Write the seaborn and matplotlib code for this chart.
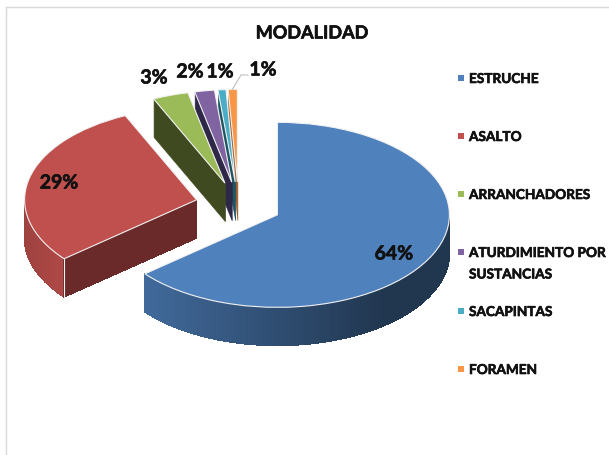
import numpy as np
import seaborn as sns
import matplotlib
matplotlib.use("Agg")
import matplotlib.pyplot as plt
import matplotlib.patheffects as pe
from matplotlib.collections import PolyCollection
from matplotlib.colors import to_rgb
from matplotlib.lines import Line2D
from matplotlib.patches import Rectangle

categories = ["ESTRUCHE", "ASALTO", "ARRANCHADORES",
              "ATURDIMIENTO POR\nSUSTANCIAS", "SACAPINTAS", "FORAMEN"]
values = [64.0, 29.2, 3.35, 1.85, 0.75, 0.85]
colors = ["#4f81bd", "#c0504d", "#9bbb59", "#8064a2", "#4bacc6", "#f79646"]
cut_colors = ["#26405f", "#6a2a29", "#3f4a20", "#2f2748", "#1f5563", "#a06030"]

W, H = 609, 455
sns.set_theme(style="white")
plt.rcParams["font.family"] = ["Lato", "DejaVu Sans"]

fig = plt.figure(figsize=(W / 100, H / 100), dpi=100, facecolor="white")
ax = fig.add_axes([0, 0, 1, 1])

# pie centre in pixels and elliptical radii
CX, CY, RX, RY, DEPTH = 238.5, 205.0, 172.0, 92.5, 38.0

wedges, _ = ax.pie(values, colors=sns.color_palette(colors), startangle=90,
                   counterclock=False, explode=[0.25] * len(values),
                   wedgeprops=dict(edgecolor="#f2f2f2", linewidth=0.8))
ax.set_aspect("auto")
ax.set_xlim(-CX / RX, (W - CX) / RX)
ax.set_ylim(-(H - CY) / RY, CY / RY)
ax.axis("off")

d = DEPTH / RY


def blue_shade(x):
    """Rim sheen on the big slice: bright at the left, dark toward the right."""
    t = np.clip((x + 0.55) / 1.4, 0, 1)
    return tuple(np.array(to_rgb(colors[0])) * (0.82 * (1 - t) + 0.42 * t))


for i in range(len(wedges) - 1, -1, -1):
    w = wedges[i]
    z = 10 + (len(wedges) - i) * 3
    w.set_zorder(z + 1)
    cx, cy = w.center
    t1, t2 = w.theta1, w.theta2
    polys, cols = [], []
    # outer rim, only the part that faces the viewer (lower half of the ellipse)
    lo, hi = max(t1, -180), min(t2, 0)
    if hi > lo:
        th = np.radians(np.linspace(lo, hi, 160))
        xs, ys = cx + np.cos(th), cy + np.sin(th)
        for k in range(len(th) - 1):
            polys.append([(xs[k], ys[k]), (xs[k + 1], ys[k + 1]),
                          (xs[k + 1], ys[k + 1] - d), (xs[k], ys[k] - d)])
            if i == 0:
                cols.append(blue_shade(xs[k]))
            else:
                cols.append(tuple(np.array(to_rgb(colors[i]))
                                  * (0.82 + 0.10 * np.clip((xs[k] - cx + 1) / 0.25, 0, 1))))
        # plain rim underneath keeps the lower outline smooth
        outline = [(x, y - d) for x, y in zip(xs, ys)] + [(x, y) for x, y in zip(xs[::-1], ys[::-1])]
        ax.add_collection(PolyCollection([outline], facecolors=[cols[len(cols) // 2]],
                                         edgecolors="none", zorder=z - 1))
    # the cut face that looks toward the viewer, at the slice's clockwise start
    a = np.radians(t2)
    ex, ey = cx + np.cos(a), cy + np.sin(a)
    if i > 0:
        polys.append([(cx, cy), (ex, ey), (ex, ey - d), (cx, cy - d)])
        cols.append(to_rgb(cut_colors[i]))
    ax.add_collection(PolyCollection(polys, facecolors=cols, edgecolors=cols,
                                     linewidths=0.5, antialiaseds=False, zorder=z))
    if i == 1:
        # pale seam at the front corner of the red slice
        ax.add_line(Line2D([ex, ex], [ey, ey - d], color="#f2f2f2", lw=0.8, zorder=z + 2))


def fx(px):
    return px / W


def fy(py):
    return 1 - py / H


def bold(size):
    return dict(fontsize=size, fontweight="bold", color="#111111",
                path_effects=[pe.withStroke(linewidth=0.45, foreground="#111111")])


# frame lines at the top and left of the chart
fig.add_artist(Line2D([fx(5.5), 1], [fy(6.5), fy(6.5)], color="#d9d9d9", lw=1))
fig.add_artist(Line2D([fx(5.5), fx(5.5)], [fy(454), fy(6.5)], color="#d9d9d9", lw=1))

fig.text(fx(312), fy(33), "MODALIDAD", ha="center", va="center", **bold(13))

# data labels, rounded from the values
label_pos = [(394, 254), (59, 183), (154, 78), (190, 72), (220, 72), (263, 70)]
for v, (px, py) in zip(values, label_pos):
    fig.text(fx(px), fy(py), f"{round(v)}%", ha="center", va="center", zorder=50, **bold(14))

# leader line of the last label
fig.add_artist(Line2D([fx(248), fx(241), fx(232)], [fy(75), fy(75), fy(90)],
                      color="#bfbfbf", lw=0.8))

# legend
legend_y = [78, 136, 194, 252, 311, 369]
for name, col, py in zip(categories, colors, legend_y):
    fig.add_artist(Rectangle((fx(458), fy(py + 3)), 6 / W, 6 / H, facecolor=col,
                             edgecolor="none", transform=fig.transFigure))
    fig.text(fx(469), fy(py - 5), name, ha="left", va="top", linespacing=1.95, **bold(9.8))

fig.savefig("out.png", dpi=100)
